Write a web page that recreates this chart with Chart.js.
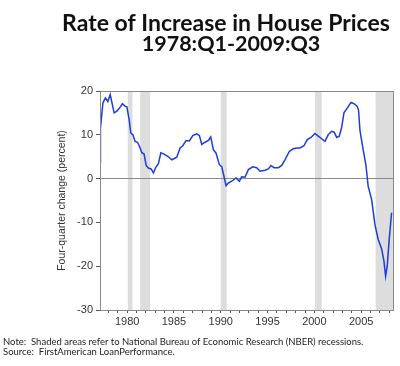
<!DOCTYPE html>
<html>
<head>
<meta charset="utf-8">
<script src="https://cdn.jsdelivr.net/npm/chart.js@4.4.0/dist/chart.umd.min.js"></script>
<style>
  html, body { margin: 0; padding: 0; background: #fff; }
</style>
</head>
<body>
<canvas id="housePriceChart" width="400" height="366"></canvas>
<script>
// positions along the time axis (decimal years)
const quarters = [
  1977.10, 1977.15, 1977.41, 1977.68, 1977.94, 1978.19, 1978.61, 1978.90, 1979.18, 1979.50,
  1979.79, 1979.97, 1980.21, 1980.39, 1980.61, 1980.85, 1981.10, 1981.31, 1981.57, 1981.81,
  1982.03, 1982.27, 1982.56, 1982.81, 1983.09, 1983.34, 1983.60, 1983.95, 1984.34, 1984.77,
  1985.30, 1985.66, 1985.94, 1986.30, 1986.65, 1987.01, 1987.44, 1987.72, 1987.97, 1988.32,
  1988.68, 1988.93, 1989.21, 1989.50, 1989.85, 1990.11, 1990.57, 1990.81, 1991.17, 1991.63,
  1991.99, 1992.24, 1992.59, 1992.95, 1993.42, 1993.84, 1994.19, 1994.73, 1995.08, 1995.37,
  1995.69, 1996.15, 1996.51, 1996.86, 1997.32, 1997.75, 1998.11, 1998.46, 1998.89, 1999.24,
  1999.64, 2000.06, 2000.42, 2000.78, 2001.13, 2001.48, 2001.85, 2002.12, 2002.38, 2002.66,
  2002.91, 2003.16, 2003.51, 2003.91, 2004.23, 2004.58, 2004.72, 2004.87, 2005.22, 2005.51,
  2005.75, 2006.12, 2006.47, 2006.82, 2007.18, 2007.43, 2007.61, 2007.78, 2007.99, 2008.25
];

// four-quarter change in house prices (percent)
const changePct = [
  3.8, 11.5, 17.3, 18.4, 17.6, 19.2, 15.0, 15.4, 16.1, 17.1,
  16.5, 16.4, 13.5, 10.4, 10.0, 8.5, 8.3, 7.4, 5.9, 5.6,
  3.0, 2.4, 2.2, 1.3, 2.7, 3.4, 5.9, 5.6, 5.1, 4.3,
  4.9, 7.0, 7.5, 8.7, 8.6, 9.8, 10.2, 9.8, 7.8, 8.3,
  8.7, 9.5, 6.6, 5.8, 3.2, 2.7, -1.6, -1.0, -0.6, 0.15,
  -0.6, 0.4, 0.3, 2.05, 2.7, 2.5, 1.7, 1.9, 2.2, 3.0,
  2.5, 2.5, 3.0, 4.3, 6.2, 6.8, 7.0, 7.0, 7.5, 8.9,
  9.4, 10.3, 9.7, 9.1, 8.5, 10.0, 10.8, 10.6, 9.4, 9.7,
  11.6, 15.0, 16.1, 17.4, 17.1, 16.5, 15.6, 11.0, 6.5, 3.0,
  -1.8, -4.8, -10.5, -13.9, -16.0, -18.8, -22.3, -20.0, -14.0, -7.8
];

// NBER recession bands, in the same time units
const recessionStarts = [1980.07, 1981.39, 1990.00, 2000.06, 2006.54];
const recessionEnds   = [1980.57, 1982.45, 1990.64, 2000.78, 2008.40];

const xMin = 1977.1, xMax = 2008.4;
const yMin = -30, yMax = 20;

const titleLines = ['Rate of Increase in House Prices', '1978:Q1-2009:Q3'];
const noteLines = [
  'Note:  Shaded areas refer to National Bureau of Economic Research (NBER) recessions.',
  'Source:  FirstAmerican LoanPerformance.'
];

const points = quarters.map((q, i) => ({ x: q, y: changePct[i] }));

// shaded recessions, behind everything else
const recessionShading = {
  id: 'recessionShading',
  beforeDraw(chart) {
    const { ctx, chartArea, scales } = chart;
    ctx.save();
    ctx.fillStyle = '#dddddd';
    for (let i = 0; i < recessionStarts.length; i++) {
      const x1 = scales.x.getPixelForValue(recessionStarts[i]);
      const x2 = scales.x.getPixelForValue(recessionEnds[i]);
      ctx.fillRect(x1, chartArea.top, x2 - x1, chartArea.bottom - chartArea.top);
    }
    ctx.restore();
  }
};

// frame, headline and footnotes
const decorations = {
  id: 'decorations',
  afterDraw(chart) {
    const { ctx, chartArea } = chart;
    ctx.save();
    ctx.strokeStyle = '#8a8a8a';
    ctx.lineWidth = 1;
    ctx.strokeRect(Math.round(chartArea.left) + 0.5, Math.round(chartArea.top) + 0.5,
      Math.round(chartArea.right - chartArea.left), Math.round(chartArea.bottom - chartArea.top));

    ctx.fillStyle = '#111';
    ctx.textAlign = 'center';
    ctx.textBaseline = 'alphabetic';
    ctx.font = 'bold 23px Lato';
    ctx.fillText(titleLines[0], 226, 31);
    ctx.font = 'bold 21.5px Lato';
    ctx.fillText(titleLines[1], 231, 51);

    ctx.textAlign = 'left';
    ctx.fillStyle = '#222';
    ctx.font = '9.5px Lato';
    ctx.fillText(noteLines[0], 3, 345);
    ctx.fillText(noteLines[1], 3, 355);
    ctx.restore();
  }
};

const ctx = document.getElementById('housePriceChart').getContext('2d');

new Chart(ctx, {
  type: 'line',
  data: {
    datasets: [{
      data: points,
      borderColor: '#1c3ddb',
      borderWidth: 1.5,
      pointRadius: 0,
      tension: 0,
      fill: false
    }]
  },
  options: {
    responsive: false,
    animation: false,
    layout: { padding: { left: 52, right: 7, top: 91, bottom: 34 } },
    plugins: {
      legend: { display: false },
      tooltip: { enabled: false }
    },
    scales: {
      x: {
        type: 'linear',
        min: xMin,
        max: xMax,
        afterFit(scale) { scale.height = 22; },
        border: { color: '#8a8a8a' },
        grid: { drawOnChartArea: false, drawTicks: true, tickLength: 3, tickColor: '#555' },
        ticks: {
          stepSize: 1,
          includeBounds: false,
          autoSkip: false,
          maxRotation: 0,
          padding: 2,
          color: '#333',
          font: { family: 'Liberation Sans', size: 11 },
          callback: (v) => (Math.round(v) % 5 === 0 ? String(Math.round(v)) : '')
        }
      },
      y: {
        min: yMin,
        max: yMax,
        afterFit(scale) { scale.width = 48; },
        border: { color: '#8a8a8a' },
        grid: {
          drawTicks: true,
          tickLength: 4,
          tickColor: '#555',
          color: (c) => (c.tick && c.tick.value === 0 ? '#8a8a8a' : 'rgba(0,0,0,0)')
        },
        ticks: {
          stepSize: 10,
          padding: 3,
          color: '#333',
          font: { family: 'Liberation Sans', size: 11 }
        },
        title: {
          display: true,
          text: 'Four-quarter change (percent)',
          color: '#333',
          font: { family: 'Liberation Sans', size: 10.5 },
          padding: { top: 4, bottom: 4 }
        }
      }
    }
  },
  plugins: [recessionShading, decorations]
});
</script>
</body>
</html>
